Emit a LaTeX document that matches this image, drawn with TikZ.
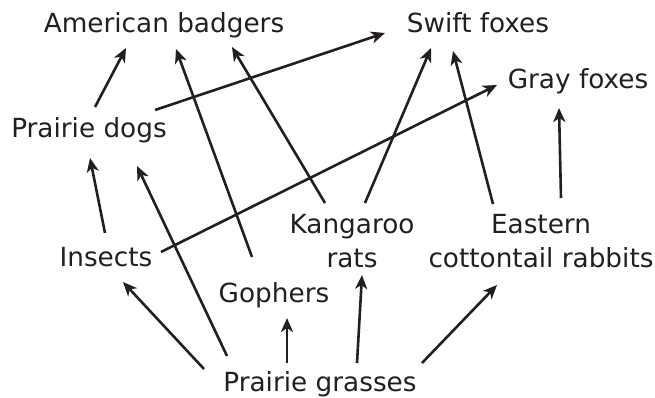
\documentclass[tikz,border=0pt]{standalone}
\usepackage{fontspec}
\setmainfont{DejaVu Sans}
\usetikzlibrary{arrows.meta,calc}
\definecolor{ink}{HTML}{231F20}
\tikzset{
  lbl/.style={text=ink, inner sep=0pt, font=\fontsize{26.3}{34}\selectfont},
  arr/.style={draw=ink, line width=2.6pt, -{Stealth[length=14pt,width=12pt,inset=4pt]}}
}
\begin{document}
\begin{tikzpicture}[x=1pt,y=-1pt]
\useasboundingbox (0,0) rectangle (655,398);
\node[lbl, anchor=base] (AB) at (164,33) {American badgers};
\node[lbl, anchor=base] (SF) at (478,33) {Swift foxes};
\node[lbl, anchor=base] (GF) at (578,89) {Gray foxes};
\node[lbl, anchor=base] (PD) at (89,138) {Prairie dogs};
\node[lbl, anchor=base] (IN) at (106,266) {Insects};
\node[lbl, anchor=base] (GO) at (274,302) {Gophers};
\node[lbl, align=center] (KR) at (352,241) {Kangaroo\\rats};
\node[lbl, align=center] (EC) at (541,241) {Eastern\\cottontail rabbits};
\node[lbl, anchor=base] (PG) at (320,391) {Prairie grasses};
\coordinate (ab) at (AB.base);
\coordinate (sf) at (SF.base);
\coordinate (gf) at (GF.base);
\coordinate (pd) at (PD.base);
\coordinate (in) at (IN.base);
\coordinate (go) at (GO.base);
\coordinate (kr) at (KR.center);
\coordinate (ec) at (EC.center);
\coordinate (pg) at (PG.base);
\draw[arr] ($(pd)+(6,-31)$) -- ($(ab)+(-38,15)$);
\draw[arr] ($(go)+(-22,-45)$) -- ($(ab)+(12,16)$);
\draw[arr] ($(kr)+(-27,-38)$) -- ($(ab)+(68,14)$);
\draw[arr] ($(pd)+(66,-28)$) -- ($(sf)+(-93,0)$);
\draw[arr] ($(kr)+(13,-38)$) -- ($(sf)+(-47,15)$);
\draw[arr] ($(ec)+(-48,-37)$) -- ($(sf)+(-25,18)$);
\draw[arr] ($(in)+(55,-14)$) -- ($(gf)+(-81,-4)$);
\draw[arr] ($(ec)+(20,-43)$) -- ($(gf)+(-19,19)$);
\draw[arr] ($(in)+(-1,-33)$) -- ($(pd)+(1,20)$);
\draw[arr] ($(pg)+(-93,-35)$) -- ($(pd)+(48,28)$);
\draw[arr] ($(pg)+(-116,-22)$) -- ($(in)+(17,16)$);
\draw[arr] ($(pg)+(-33,-28)$) -- ($(go)+(13,16)$);
\draw[arr] ($(pg)+(37,-28)$) -- ($(kr)+(10,34)$);
\draw[arr] ($(pg)+(102,-28)$) -- ($(ec)+(-44,44)$);
\end{tikzpicture}
\end{document}
